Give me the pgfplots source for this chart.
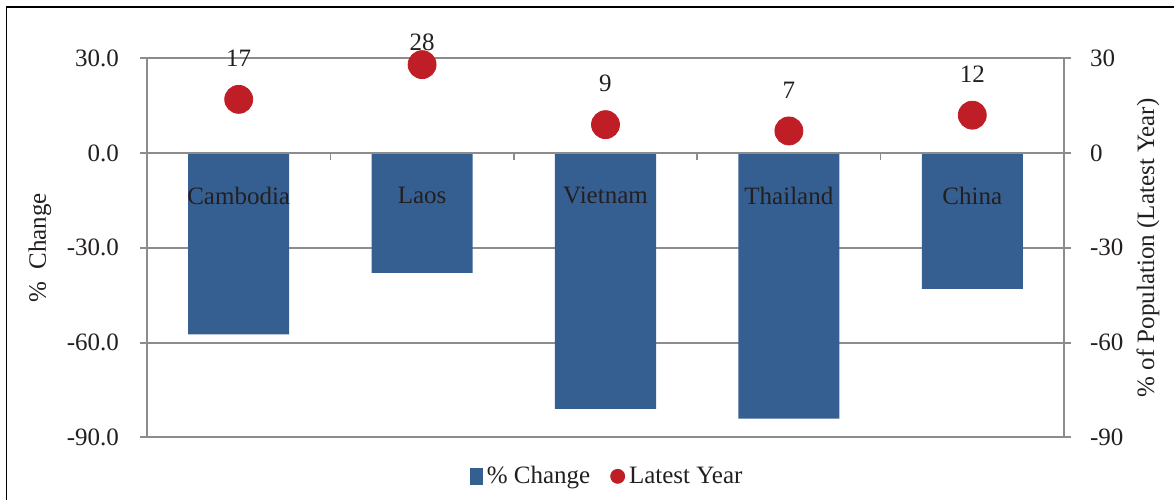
\documentclass[border=0pt]{standalone}
\usepackage{fontspec}
\setmainfont{Liberation Serif}
\usepackage{pgfplots}
\usepackage{pgfplotstable}
\pgfplotsset{compat=1.18}

\definecolor{barblue}{RGB}{54,95,145}
\definecolor{dotred}{RGB}{192,30,38}
\definecolor{gridgray}{RGB}{140,140,140}
\definecolor{textgray}{RGB}{35,31,32}

% % change per country (bars, left axis)
\pgfplotstableread{
x  change
0  -57.4
1  -37.9
2  -81.0
3  -84.1
4  -43.0
}\changetable

% latest year, % of population (dots, right axis); dy = label offset in pt
\pgfplotstableread{
x  latest  dy
0  17      20.5
1  28      11.2
2  9       20.5
3  7       20.5
4  12      20.5
}\latesttable

\pgfplotsset{
  chartbase/.style={
    scale only axis, width=458.5pt, height=189.5pt,
    at={(73.5pt,30.85pt)}, anchor=south west,
    xmin=-0.5, xmax=4.5, ymin=-90, ymax=30,
    ytick={-90,-60,-30,0,30},
    tick label style={font=\fontsize{12.5}{15}\selectfont, color=textgray},
    label style={font=\fontsize{12.5}{15}\selectfont, color=textgray},
    /pgf/number format/assume math mode=true,
    clip=false,
  },
}

\begin{document}
\begin{tikzpicture}[x=1pt,y=1pt]
\path[use as bounding box] (0,0) rectangle (587,249.5);
\clip (0,0) rectangle (587,249.5);
% outer chart frame
\draw[line width=0.8pt, black] (3.2,-10) -- (3.2,246) -- (600,246);

\begin{axis}[chartbase,
  axis line style={draw=gridgray, line width=1pt},
  ymajorgrids, grid style={draw=gridgray, line width=1pt},
  ytick pos=left, tick align=outside, major tick length=3.5pt,
  ytick style={draw=gridgray, line width=1pt},
  xtick={0,...,4}, xticklabels={},
  xtick style={draw=none},
  yticklabel style={xshift=-7pt, /pgf/number format/.cd, fixed, fixed zerofill, precision=1},
  ylabel={\%~~Change},
  ylabel style={at={(axis description cs:-0.1167,0.5)}, anchor=center},
  ybar, bar width=50.5pt,
]
\addplot[fill=barblue, draw=none] table[x=x, y=change] {\changetable};
% zero line and category separators
\draw[gridgray, line width=1.4pt] (axis cs:-0.5,0) -- (axis cs:4.5,0);
\pgfplotsinvokeforeach{0.5,1.5,2.5,3.5}{
  \draw[gridgray, line width=0.8pt] (axis cs:#1,0) -- ([yshift=-3.5pt]axis cs:#1,0);
}
\end{axis}

\begin{axis}[chartbase,
  axis x line*=bottom, axis y line*=right,
  x axis line style={draw=none},
  y axis line style={draw=gridgray, line width=1pt},
  tick align=outside, major tick length=3.5pt,
  ytick style={draw=gridgray, line width=1pt},
  yticklabel style={xshift=6pt},
  xtick={0,...,4}, xticklabels={Cambodia,Laos,Vietnam,Thailand,China},
  xtick style={draw=none},
  xticklabel style={anchor=center, yshift=124.4pt},
  ylabel={\%~of~Population (Latest Year)},
  ylabel style={at={(axis description cs:1.0916,0.5)}, anchor=center},
  legend columns=2,
  legend cell align=left,
  legend style={at={(axis description cs:0.503,-0.103)}, anchor=center,
    draw=none, fill=none, inner sep=0pt,
    font=\fontsize{12.5}{15}\selectfont, text=textgray,
    /tikz/every even column/.append style={column sep=8pt}},
]
\addlegendimage{legend image code/.code={\fill[barblue] (0pt,-4pt) rectangle (6pt,4pt);}}
\addlegendentry{\%~Change}
\addplot[only marks, mark=*, mark size=7pt, color=dotred,
  mark options={fill=dotred, draw=dotred},
  legend image code/.code={\fill[dotred] (3.5pt,0pt) circle (3.5pt);},
  nodes near coords,
  visualization depends on={\thisrow{dy} \as \labdy},
  every node near coord/.append style={anchor=center, yshift=\labdy pt,
    font=\fontsize{12.5}{15}\selectfont, color=textgray},
] table[x=x, y=latest] {\latesttable};
\addlegendentry{Latest Year}
\end{axis}
\end{tikzpicture}
\end{document}
